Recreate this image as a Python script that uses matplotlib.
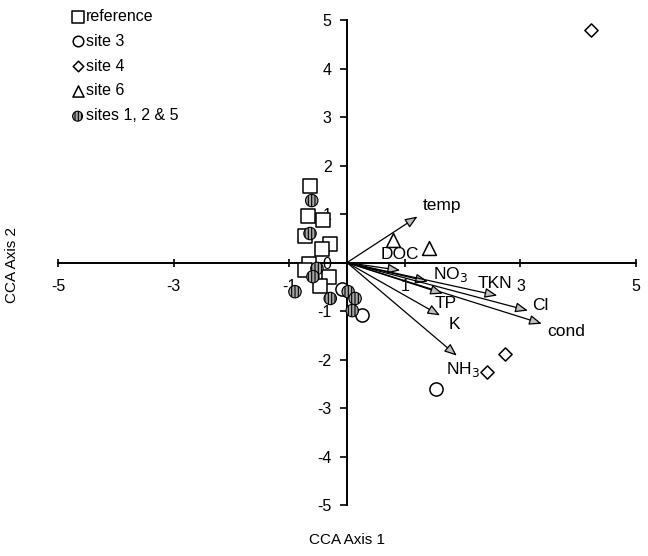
import numpy as np
import matplotlib
matplotlib.use("Agg")
import matplotlib.pyplot as plt

plt.rcParams["font.family"] = ["Liberation Sans", "DejaVu Sans"]
plt.rcParams["hatch.linewidth"] = 0.8

# ── 사이트 점수 (CCA axis 1, axis 2) ─────────────────────────
ref_x = [-0.64, -0.67, -0.42, -0.73, -0.29, -0.43, -0.66, -0.73, -0.31, -0.47]
ref_y = [1.57, 0.97, 0.87, 0.54, 0.39, 0.29, -0.02, -0.16, -0.29, -0.49]

site3_x = [-0.09, 0.26, 1.54]
site3_y = [-0.54, -1.09, -2.60]

site4_x = [4.22, 2.73, 2.42]
site4_y = [4.80, -1.88, -2.25]

site6_x = [0.80, 1.42]
site6_y = [0.47, 0.31]

site125_x = [-0.61, -0.64, -0.52, -0.59, -0.90, -0.29, 0.02, 0.14, 0.09]
site125_y = [1.28, 0.60, -0.12, -0.29, -0.60, -0.74, -0.60, -0.74, -0.99]

# ── 환경 변수 벡터 ──────────────────────────────────────────
env_names = ["temp", "DOC", "NO$_3$", "TKN", "Cl", "cond", "TP", "K", "NH$_3$"]
env_x = [1.22, 0.92, 1.40, 2.60, 3.13, 3.37, 1.66, 1.61, 1.90]
env_y = [0.95, -0.16, -0.39, -0.68, -0.99, -1.26, -0.64, -1.09, -1.92]
# label offsets (pixels) and alignment
lab_dx = [5, 0, 5, -2, 4, 5, 3, 9, 6]
lab_dy = [11, 16, 7, 12, 5, -8, -10, -9, -14]
lab_ha = ["left", "center", "left", "center", "left", "left", "center", "left", "center"]

xticks = [-5, -3, -1, 1, 3, 5]
yticks = list(range(-5, 6))

fig = plt.figure(figsize=(6.48, 5.56), dpi=100)
ax = fig.add_axes([0.0895, 0.0917, 0.892, 0.872])

ax.scatter(ref_x, ref_y, marker="s", s=105, facecolor="white", edgecolor="black",
           linewidth=1.1, zorder=3, label="reference")
ax.scatter(site3_x, site3_y, marker="o", s=90, facecolor="white", edgecolor="black",
           linewidth=1.1, zorder=4, label="site 3")
ax.scatter(site4_x, site4_y, marker="D", s=45, facecolor="white", edgecolor="black",
           linewidth=1.1, zorder=4, label="site 4")
ax.scatter(site6_x, site6_y, marker="^", s=100, facecolor="white", edgecolor="black",
           linewidth=1.1, zorder=4, label="site 6")
ax.scatter(site125_x, site125_y, marker="o", s=80, facecolor="0.65", edgecolor="black",
           hatch="|||||", linewidth=0.8, zorder=5, label="sites 1, 2 & 5")

for name, x, y, dx, dy, ha in zip(env_names, env_x, env_y, lab_dx, lab_dy, lab_ha):
    ax.annotate("", xy=(x, y), xytext=(0, 0),
                arrowprops=dict(arrowstyle="-|>,head_length=0.75,head_width=0.3",
                                facecolor="0.75", edgecolor="black", lw=0.9,
                                shrinkA=0, shrinkB=0), zorder=2)
    ax.annotate(name, xy=(x, y), xytext=(dx, dy), textcoords="offset pixels",
                ha=ha, va="center", fontsize=12.5, zorder=6)

ax.set_xlim(-5, 5)
ax.set_ylim(-5, 5)
ax.spines["left"].set_position(("data", 0))
ax.spines["bottom"].set_position(("data", 0))
ax.spines["top"].set_visible(False)
ax.spines["right"].set_visible(False)
ax.spines["left"].set_linewidth(1.4)
ax.spines["bottom"].set_linewidth(1.4)

ax.set_xticks(xticks)
ax.set_xticklabels([str(t) for t in xticks])
ax.set_yticks(yticks)
ax.set_yticklabels([str(t) for t in yticks])
ax.tick_params(axis="x", direction="inout", length=6, width=1.2, pad=9, labelsize=11.5)
ax.tick_params(axis="y", direction="out", length=5, width=1.2, pad=6, labelsize=11.5)

fig.text(0.535, 0.029, "CCA Axis 1", ha="center", va="center", fontsize=11)
fig.text(0.019, 0.523, "CCA Axis 2", ha="center", va="center", rotation=90, fontsize=11)

fig.legend(loc="upper left", bbox_to_anchor=(0.1, 1.0), frameon=False,
           handlelength=0.5, handletextpad=0.3, labelspacing=0.62,
           borderaxespad=0.15, fontsize=11.5, scatterpoints=1, markerscale=0.8)

fig.savefig("out.png", dpi=100)
